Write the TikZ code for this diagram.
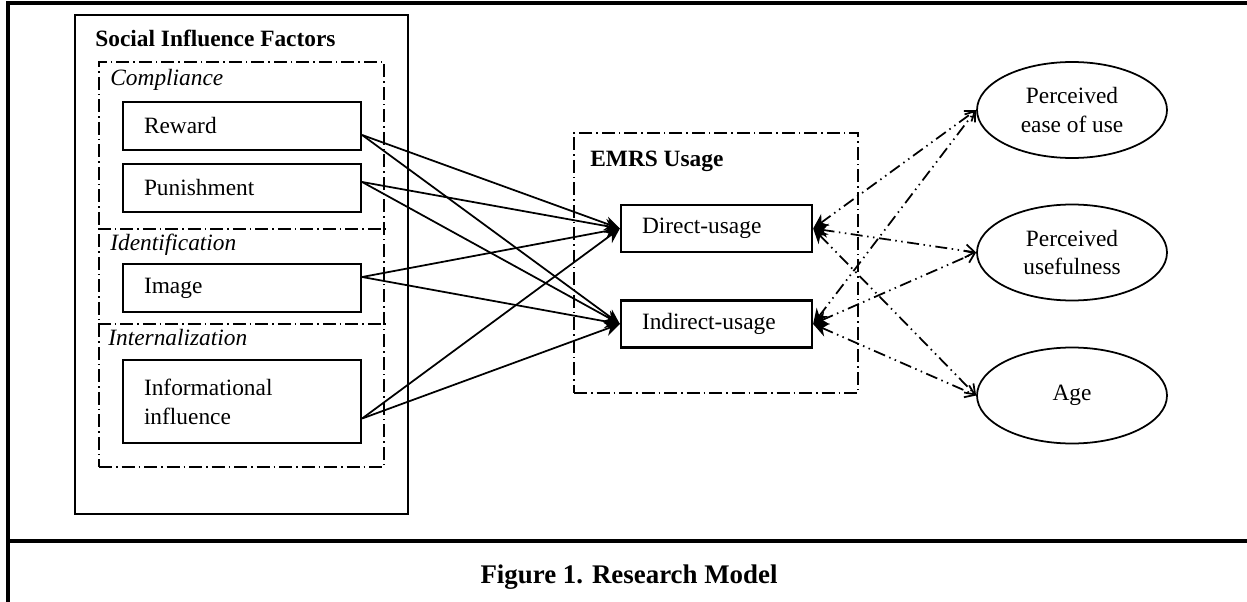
\documentclass[tikz,border=0pt]{standalone}
\usepackage{fontspec}
\setmainfont{Liberation Serif}
\usetikzlibrary{arrows.meta, shapes.geometric}
\tikzset{
  factor/.style={
    rectangle, draw=black, line width=1.3pt,
    minimum height=9.6mm, text width=39.2mm, inner xsep=4.2mm,
    align=left, font=\fontsize{13.3}{16.5}\selectfont
  },
  usage/.style={
    rectangle, draw=black, line width=1.3pt,
    minimum height=9.4mm, text width=29.8mm, inner xsep=4.2mm,
    align=left, font=\fontsize{13.3}{16.5}\selectfont
  },
  moder/.style={
    ellipse, draw=black, line width=1pt, inner sep=0pt,
    minimum width=38mm, minimum height=19.2mm,
    align=center, font=\fontsize{13.3}{16}\selectfont
  },
  grpbox/.style={rectangle, draw=black, inner sep=0pt, line width=1.3pt,
                 dash pattern=on 2.6mm off 0.8mm on 0.3mm off 0.8mm},
  solidbox/.style={rectangle, draw=black, inner sep=0pt, line width=1.5pt},
  hd/.style={font=\fontsize{13.3}{15}\selectfont\bfseries, anchor=base west, inner sep=0pt},
  sub/.style={font=\fontsize{13.3}{15}\selectfont\itshape, anchor=base west, inner sep=0pt},
  fa/.style={-{Stealth[length=3mm, width=2.8mm]}, line width=1pt},
  da/.style={arrows={Stealth[length=3mm,width=2.8mm]-Straight Barb[length=1.8mm,width=2.6mm]},
             line width=1pt,
             dash pattern=on 2.4mm off 0.9mm on 0.3mm off 0.9mm on 0.3mm off 0.9mm},
  frame/.style={line width=2pt},
}
\begin{document}
\begin{tikzpicture}
\useasboundingbox (0,0) rectangle (249.4mm,-120.4mm);

%% ── Page frame ───────────────────────────────────────────────────────────────
\draw[frame] (1.6mm,-125mm) -- (1.6mm,-0.6mm) -- (255mm,-0.6mm);
\draw[frame] (1.6mm,-108.2mm) -- (255mm,-108.2mm);

%% ── Social influence factors (left) ──────────────────────────────────────────
\node[solidbox, minimum width=66.6mm, minimum height=99.8mm] (sif) at (48.3mm,-52.9mm) {};
\node[hd] (siftitle) at (19mm,-9.4mm) {Social Influence Factors};
\node[grpbox, minimum width=57mm, minimum height=81mm] (infl) at (48.3mm,-52.9mm) {};
\coordinate (sepA) at (0,-45.8mm);
\coordinate (sepB) at (0,-64.8mm);
\draw[line width=1.3pt, dash pattern=on 2.6mm off 0.8mm on 0.3mm off 0.8mm]
  (infl.west |- sepA) -- (infl.east |- sepA);
\draw[line width=1.3pt, dash pattern=on 2.6mm off 0.8mm on 0.3mm off 0.8mm]
  (infl.west |- sepB) -- (infl.east |- sepB);

\node[sub] (compl) at (22mm,-17mm)   {Compliance};
\node[sub] (ident) at (22mm,-50mm)   {Identification};
\node[sub] (intern) at (21.6mm,-69mm) {Internalization};

\node[factor] (reward) at (48.4mm,-25.2mm) {Reward};
\node[factor] (punish) at (48.4mm,-37.6mm) {Punishment};
\node[factor] (image)  at (48.4mm,-57.6mm) {Image};
\node[factor, minimum height=16.6mm] (info) at (48.4mm,-80.3mm) {Informational\\influence};

%% ── EMRS usage (middle) ──────────────────────────────────────────────────────
\node[grpbox, minimum width=56.8mm, minimum height=52mm] (emrs) at (143.2mm,-52.6mm) {};
\node[hd] (emrstitle) at (118mm,-33.4mm) {EMRS Usage};
\node[usage] (direct)   at (143.3mm,-45.7mm) {Direct-usage};
\node[usage] (indirect) at (143.3mm,-64.8mm) {Indirect-usage};

%% ── Moderators (right) ───────────────────────────────────────────────────────
\node[moder] (peou) at (214.4mm,-22mm)   {Perceived\\ease of use};
\node[moder] (pu)   at (214.4mm,-50.5mm) {Perceived\\usefulness};
\node[moder] (age)  at (214.4mm,-79.1mm) {Age};

%% ── Influence arrows ─────────────────────────────────────────────────────────
\draw[fa] ([yshift=-1.8mm]reward.east) -- (direct.west);
\draw[fa] ([yshift=-1.8mm]reward.east) -- (indirect.west);
\draw[fa] ([yshift=1.2mm]punish.east)  -- (direct.west);
\draw[fa] ([yshift=1.2mm]punish.east)  -- (indirect.west);
\draw[fa] ([yshift=2.2mm]image.east)   -- (direct.west);
\draw[fa] ([yshift=2.2mm]image.east)   -- (indirect.west);
\draw[fa] ([yshift=-3.4mm]info.east)   -- (direct.west);
\draw[fa] ([yshift=-3.4mm]info.east)   -- (indirect.west);

%% ── Moderator links (dash-dot-dot) ───────────────────────────────────────────
\draw[da] (direct.east)   -- (peou.west);
\draw[da] (indirect.east) -- (peou.west);
\draw[da] (direct.east)   -- (pu.west);
\draw[da] (indirect.east) -- (pu.west);
\draw[da] (direct.east)   -- (age.west);
\draw[da] (indirect.east) -- (age.west);

%% ── Caption ──────────────────────────────────────────────────────────────────
\node[font=\fontsize{15.3}{18}\selectfont\bfseries, anchor=base, inner sep=0pt] (cap)
  at (125.8mm,-116.6mm) {Figure 1. Research Model};

\end{tikzpicture}
\end{document}
